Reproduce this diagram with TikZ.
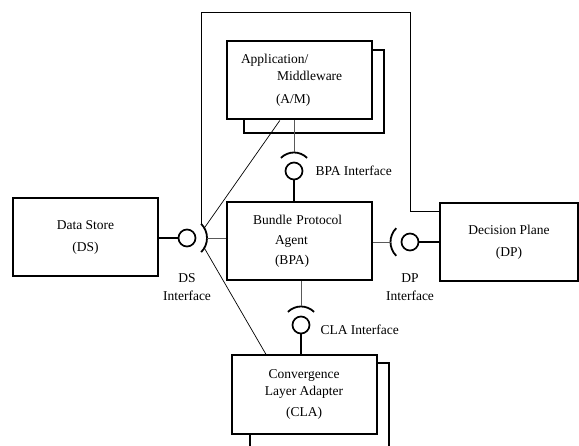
\documentclass[tikz,border=0pt]{standalone}
\usepackage{fontspec}
\setmainfont{Liberation Serif}
\usetikzlibrary{calc, positioning}
\tikzset{
  plug/.style={line width=1.8pt},
  stub/.style={line width=0.8pt, black!65},
  wire/.style={line width=0.7pt},
}

\begin{document}
\begin{tikzpicture}[x=1pt, y=1pt,
    font=\fontsize{13.5}{20}\selectfont,
    unit/.style={draw, line width=2pt, fill=white, inner sep=0pt,
                 minimum width=145pt, minimum height=78pt, align=center},
    ball/.style={draw, circle, line width=1.7pt, inner sep=0pt,
                 minimum size=17pt},
    iflabel/.style={inner sep=0pt, align=center}]
  \clip (0,0) rectangle (579,445);
  % stacked copies behind A/M and CLA
  \draw[line width=2pt] (244,312) rectangle (384,395);
  \draw[line width=2pt] (250,-10) rectangle (389,82);
  % Nodes
  \node[unit, text width=117pt, align=left] (am) at (299.5,364.5)
    {Application/\\[-3pt]\hspace*{36pt}Middleware\\[3pt]\hspace*{35pt}(A/M)};
  \node[unit, text width=93pt, align=left] (bpa) at (299.5,203.5)
    {Bundle Protocol\\\hspace*{22pt}Agent\\\hspace*{22pt}(BPA)};
  \node[unit] (ds) at (85.5,207.5) {Data Store\\[2pt](DS)};
  \node[unit, minimum width=138pt] (dp) at (509,203) {Decision Plane\\[2pt](DP)};
  \node[unit, minimum height=79pt] (cla) at (304,50.5)
    {Convergence\\[-3pt]Layer Adapter\\[1pt](CLA)};
  % Interfaces: ball plus socket
  \node[ball] (bpaIf) at (294,274) {};
  \node[ball] (claIf) at (301,120) {};
  \node[ball] (dsIf)  at (187,207) {};
  \node[ball] (dpIf)  at (410,203) {};
  \draw[plug] ($(bpaIf)+(45:18.5)$) arc[start angle=45, end angle=135, radius=18.5];
  \draw[plug] ($(claIf)+(45:18.5)$) arc[start angle=45, end angle=135, radius=18.5];
  \draw[plug] ($(dsIf)+(45:20)$) arc[start angle=45, end angle=-45, radius=20];
  \draw[plug] ($(dpIf)+(135:19.5)$) arc[start angle=135, end angle=225, radius=19.5];
  \coordinate (bpaSock) at ($(bpaIf)+(0,18.5)$);
  \coordinate (claSock) at ($(claIf)+(0,18.5)$);
  \coordinate (dsSock)  at ($(dsIf)+(20,0)$);
  \coordinate (dsTop)   at ($(dsIf)+(45:20)$);
  \coordinate (dsUp)    at ($(dsIf)+(30:20)$);
  \coordinate (dsDown)  at ($(dsIf)+(-30:20)$);
  \coordinate (dpSock)  at ($(dpIf)+(-19.5,0)$);
  \coordinate (ring)    at (410,433);
  % Labels
  \node[iflabel, right=12pt of bpaIf] (bpaLbl) {BPA Interface};
  \node[iflabel, right=10pt of claIf, yshift=-5pt] (claLbl) {CLA Interface};
  \node[iflabel, below=26pt of dsIf] (dsLbl) {DS\\[-2pt]Interface};
  \node[iflabel, below=22pt of dpIf] (dpLbl) {DP\\[-2pt]Interface};
  % Connectors
  \draw[stub] (bpaSock) -- (bpaSock |- am.south);
  \draw[plug] (bpaIf) -- (bpaIf |- bpa.north);
  \draw[stub] (claSock) -- (claSock |- bpa.south);
  \draw[plug] (claIf) -- (claIf |- cla.north);
  \draw[plug] (ds.east |- dsIf) -- (dsIf);
  \draw[stub] (dsSock) -- (dsSock -| bpa.west);
  \draw[plug] (dpIf) -- (dpIf -| dp.west);
  \draw[stub] (dpSock) -- (dpSock -| bpa.east);
  \draw[wire] (dsUp) -- ($(am.south west)!0.366!(am.south east)$);
  \draw[wire] (dsDown) -- ($(cla.north west)!0.24!(cla.north east)$);
  \draw[wire] (dsTop) |- (ring) |- ($(dp.north west)!0.115!(dp.south west)$);
\end{tikzpicture}
\end{document}
